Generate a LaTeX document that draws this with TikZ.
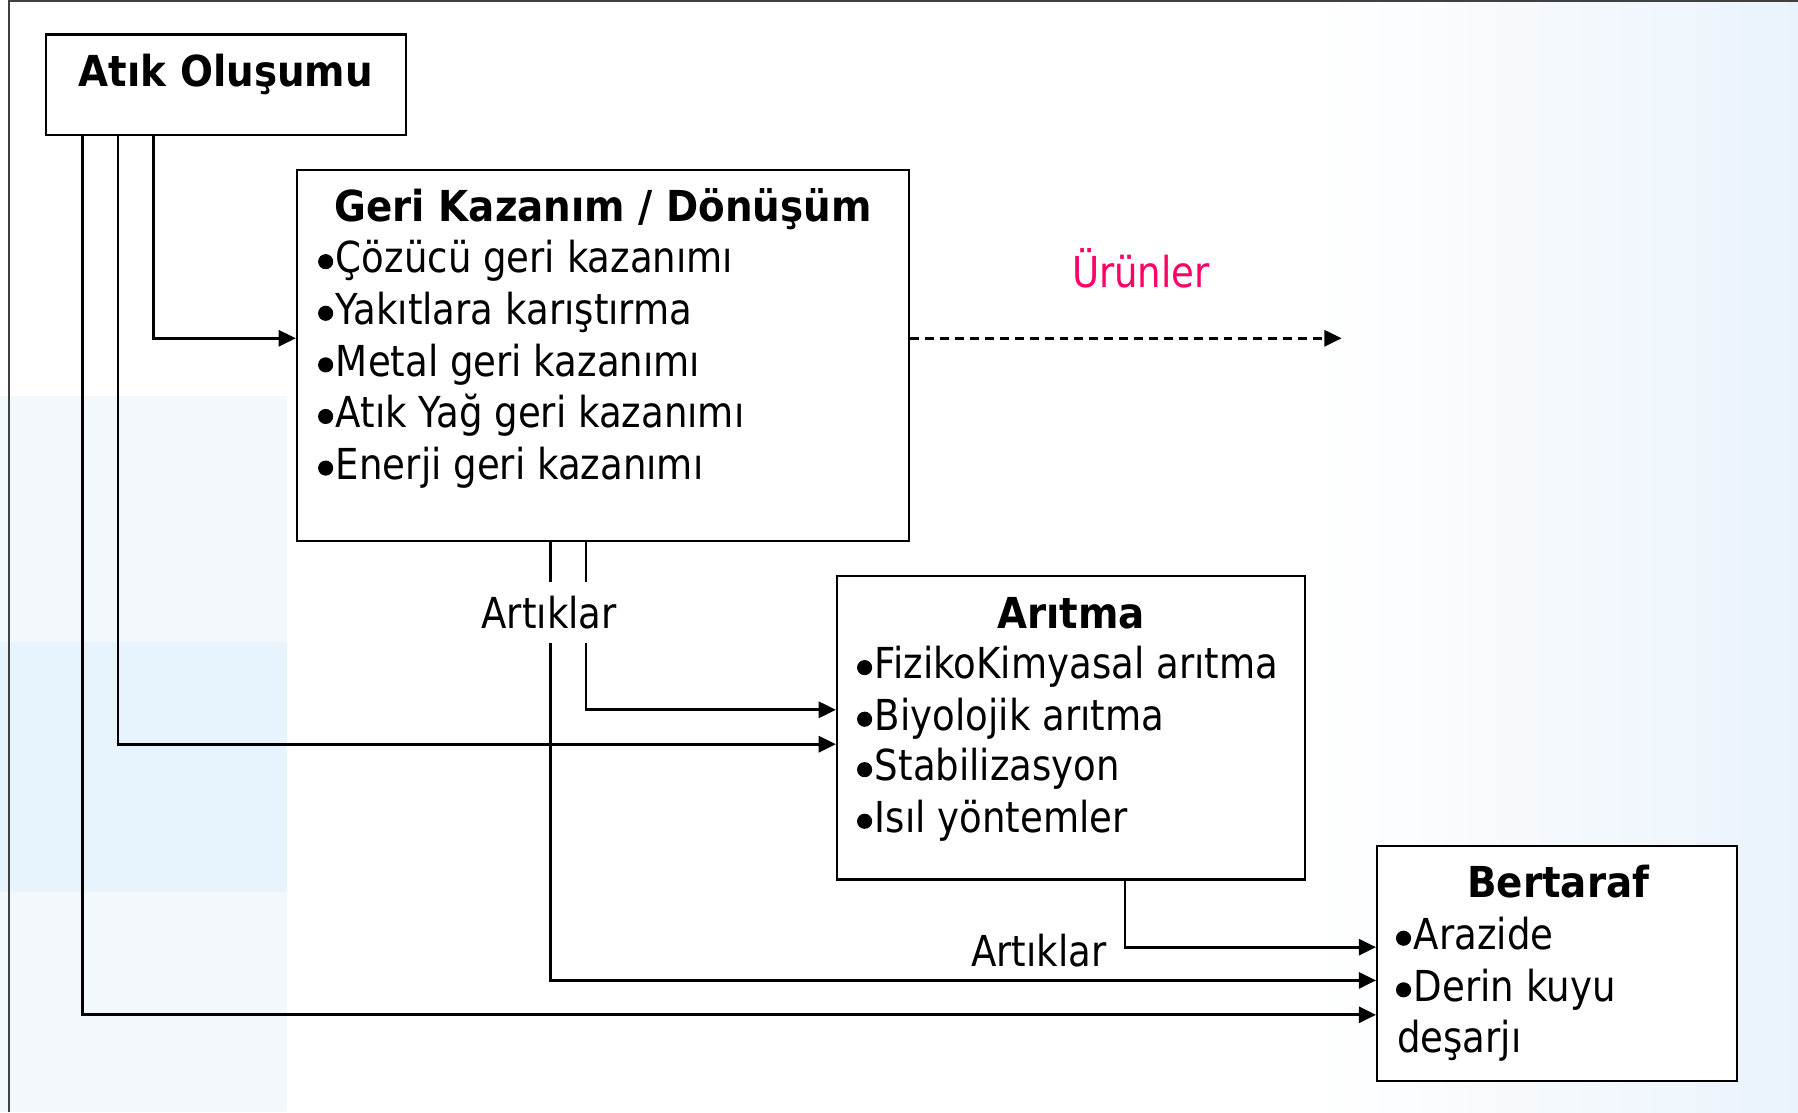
\documentclass[tikz,border=0pt]{standalone}
\usepackage{fontspec}
\setmainfont{DejaVu Sans}[FakeStretch=0.87, BoldFeatures={FakeStretch=0.91}]
\usetikzlibrary{arrows.meta,calc}
\definecolor{pinkred}{HTML}{FF0066}
\definecolor{bandA}{HTML}{F3F8FD}
\definecolor{bandB}{HTML}{E7F3FD}
\definecolor{bandR}{HTML}{EAF3FB}
\newcommand\tfont{\fontsize{18.6pt}{22.5pt}\selectfont}
\newcommand\bul{\tikz[baseline=0pt]\fill[black] (3.3pt,4.9pt) circle[radius=3.3pt];\hspace{1.2pt}}
\tikzset{
  boxnode/.style={draw=black, line width=1pt, fill=white, inner sep=0pt},
  tline/.style={anchor=base west, inner sep=0pt, font=\tfont},
  ttitle/.style={anchor=base, inner sep=0pt, font=\tfont\bfseries},
  conn/.style={line width=1.2pt, -{Triangle[length=7.5pt,width=7pt]}},
  dconn/.style={conn, dash pattern=on 3.9pt off 2.6pt},
  lab/.style={anchor=base, font=\tfont, fill=white, inner xsep=3pt, inner ysep=6pt},
}
\begin{document}
\begin{tikzpicture}[x=0.5pt,y=-0.5pt]
\useasboundingbox (0,0) rectangle (1568,970);
% background
\fill[white] (0,0) rectangle (1568,970);
\fill[bandA] (0,345) rectangle (250,970);
\fill[bandB] (0,560) rectangle (250,778);
\shade[left color=white, right color=bandR] (1150,0) rectangle (1568,970);
\draw[black!75, line width=0.6pt] (8,970) -- (8,1) -- (1568,1);

% boxes
\node[boxnode, minimum width=157pt, minimum height=44pt] (atik) at (197,74) {};
\node[boxnode, minimum width=267pt, minimum height=162pt] (geri) at (526,310) {};
\node[boxnode, minimum width=204pt, minimum height=132.5pt] (arit) at (934,634.5) {};
\node[boxnode, minimum width=157pt, minimum height=102.5pt] (bert) at (1358,840.5) {};

% texts
\node[ttitle] (atikT) at (197,75) {Atık Oluşumu};

\node[ttitle] (geriT) at (526,193) {Geri Kazanım / Dönüşüm};
\node[tline] (g1) at (277,238) {\bul Çözücü geri kazanımı};
\node[tline] (g2) at (277,283) {\bul Yakıtlara karıştırma};
\node[tline] (g3) at (277,328) {\bul Metal geri kazanımı};
\node[tline] (g4) at (277,373) {\bul Atık Yağ geri kazanımı};
\node[tline] (g5) at (277,418) {\bul Enerji geri kazanımı};

\node[ttitle] (aritT) at (934,548) {Arıtma};
\node[tline] (a1) at (747,592) {\bul FizikoKimyasal arıtma};
\node[tline] (a2) at (747,637) {\bul Biyolojik arıtma};
\node[tline] (a3) at (747,681) {\bul Stabilizasyon};
\node[tline] (a4) at (747,726) {\bul Isıl yöntemler};

\node[ttitle] (bertT) at (1359,783) {Bertaraf};
\node[tline] (b1) at (1217,828) {\bul Arazide};
\node[tline] (b2) at (1217,873) {\bul Derin kuyu};
\node[tline] (b3) at (1218,918) {deşarjı};

% connectors
\draw[conn] (atik.south -| 134,0) |- (geri.west |- 0,295);
\draw[conn] (atik.south -| 103,0) |- (arit.west |- 0,649);
\draw[conn] (atik.south -| 72,0) |- (bert.west |- 0,885);
\draw[conn] (geri.south -| 511,0) |- (arit.west |- 0,619);
\draw[conn] (geri.south -| 480,0) |- (bert.west |- 0,855);
\draw[conn] (arit.south -| 981,0) |- (bert.west |- 0,826);
\coordinate (urunEnd) at (1170,295);
\draw[dconn] (geri.east |- 0,295) -- (urunEnd);

% labels
\node[lab] (art1) at (479,548) {Artıklar};
\node[anchor=base, font=\tfont, inner sep=0pt] (art2) at (906,843) {Artıklar};
\node[anchor=base, font=\tfont, inner sep=0pt, text=pinkred] (urun) at (995,251) {Ürünler};
\end{tikzpicture}
\end{document}
